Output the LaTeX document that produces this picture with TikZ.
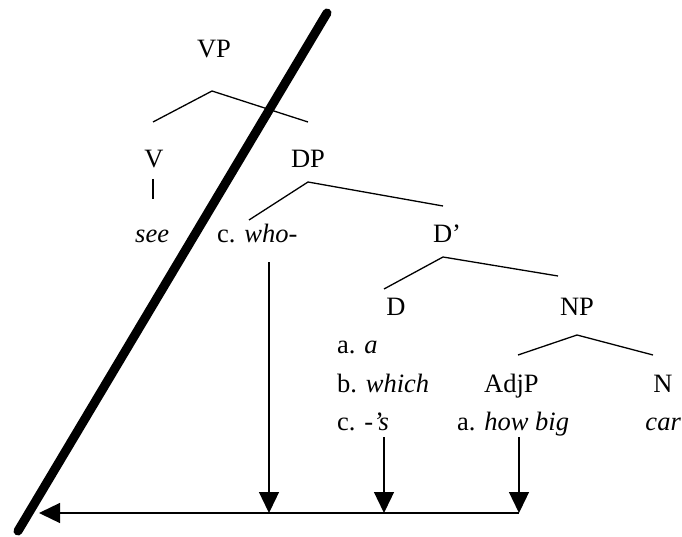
\documentclass[tikz,border=0pt]{standalone}
\usepackage{fontspec}
\setmainfont{Liberation Serif}[ItalicFont={Liberation Serif Italic}]
\usetikzlibrary{arrows.meta}
\begin{document}
\begin{tikzpicture}[x=1pt,y=-1pt,
  lbl/.style={inner sep=0pt,font=\fontsize{26.5}{30}\selectfont},
  br/.style={line width=1.3pt},
  arr/.style={line width=1.3pt,-{Triangle[length=21pt,width=20pt]}}]
\useasboundingbox (0,0) rectangle (682,537);
% labels
\node[lbl,anchor=base] (vp) at (214,58) {VP};
\node[lbl,anchor=base] (v) at (154,168) {V};
\node[lbl,anchor=base] (dp) at (308,168) {DP};
\node[lbl,anchor=base west] (see) at (135,243) {\itshape see};
\node[lbl,anchor=base west] (who) at (217,243) {c. \textit{who-}};
\node[lbl,anchor=base] (dbar) at (447,243) {D’};
\node[lbl,anchor=base] (d) at (396,315) {D};
\node[lbl,anchor=base] (np) at (577,315) {NP};
\node[lbl,anchor=base west] (da) at (337,353) {a. \textit{a}};
\node[lbl,anchor=base west] (db) at (337,392) {b. \textit{which}};
\node[lbl,anchor=base west] (dc) at (337,430) {c. -\textit{’s}};
\node[lbl,anchor=base west] (adjp) at (484,392) {AdjP};
\node[lbl,anchor=base west] (howbig) at (457,430) {a. \textit{how big}};
\node[lbl,anchor=base] (n) at (663,392) {N};
\node[lbl,anchor=base east] (car) at (681,430) {\itshape car};
% branch points
\coordinate (vpA) at (212,91);
\coordinate (vpL) at (153,122);
\coordinate (vpR) at (308,122);
\coordinate (vT) at (153,179);
\coordinate (vB) at (153,199);
\coordinate (dpA) at (308,182);
\coordinate (dpL) at (249,220);
\coordinate (dpR) at (443,206);
\coordinate (dbA) at (443,257);
\coordinate (dbL) at (384,289);
\coordinate (dbR) at (558,276);
\coordinate (npA) at (577,335);
\coordinate (npL) at (518,355);
\coordinate (npR) at (653,355);
\draw[br] (vpL) -- (vpA) -- (vpR);
\draw[br] (vT) -- (vB);
\draw[br] (dpL) -- (dpA) -- (dpR);
\draw[br] (dbL) -- (dbA) -- (dbR);
\draw[br] (npL) -- (npA) -- (npR);
% arrows
\coordinate (a1t) at (269,262);
\coordinate (a1b) at (269,513);
\coordinate (a2t) at (384,437);
\coordinate (a2b) at (384,513);
\coordinate (a3t) at (519,437);
\coordinate (a3b) at (519,513);
\coordinate (tip) at (39,513);
\draw[arr] (a1t) -- (a1b);
\draw[arr] (a2t) -- (a2b);
\draw[arr] (a3t) -- (a3b);
\draw[arr] (a3b) -- (tip);
% thick slash
\coordinate (sT) at (327,13);
\coordinate (sB) at (18,531);
\draw[line width=9pt,line cap=round] (sT) -- (sB);
\end{tikzpicture}
\end{document}
